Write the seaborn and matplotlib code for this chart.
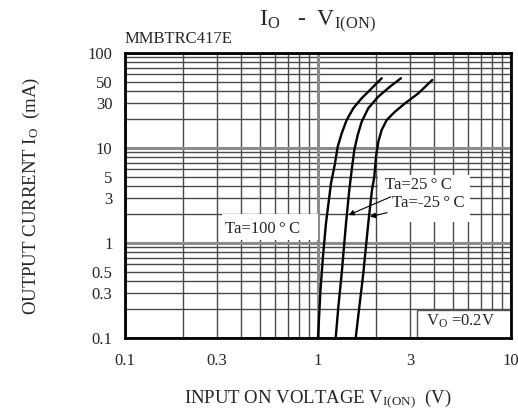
import matplotlib
matplotlib.use("Agg")
import matplotlib.pyplot as plt
from matplotlib.patches import Rectangle
from matplotlib.ticker import FixedLocator, FixedFormatter, LogLocator, NullFormatter
import pandas as pd
import seaborn as sns

# Input on-voltage (V) versus output current (mA) at three ambient temperatures
i_100c = [0.1, 0.32, 0.72, 1.62, 4.25, 6.9, 10.3, 14.3, 19.7, 26.2, 33.4, 42.5, 54.2]
v_100c = [1.00, 1.03, 1.061, 1.10, 1.168, 1.225, 1.265, 1.327, 1.408, 1.524, 1.684, 1.898, 2.138]

i_25c = [0.1, 0.21, 0.48, 1.62, 3.6, 5.87, 9.5, 13.7, 18.9, 26.2, 34.7, 44.2, 54.2]
v_25c = [1.235, 1.274, 1.327, 1.397, 1.452, 1.495, 1.542, 1.606, 1.684, 1.822, 2.053, 2.36, 2.69]

i_m25c = [0.1, 0.21, 0.48, 1.62, 3.6, 4.99, 8.1, 11.6, 15.5, 19.7, 24.1, 29.5, 37.6, 52.0]
v_m25c = [1.568, 1.636, 1.717, 1.822, 1.904, 1.957, 1.998, 2.053, 2.138, 2.27, 2.506, 2.824, 3.31, 3.91]

series_names = ["Ta=100\u2009°\u2009C", "Ta=25\u2009°\u2009C", "Ta=-25\u2009°\u2009C"]

x_ticks = [0.1, 0.3, 1, 3, 10]
x_tick_labels = ["0.1", "0.3", "1", "3", "10"]
y_ticks = [0.1, 0.3, 0.5, 1, 3, 5, 10, 30, 50, 100]
y_tick_labels = ["0.1", "0.3", "0.5", "1", "3", "5", "10", "30", "50", "100"]
decades_x = [0.1, 1, 10]
decades_y = [0.1, 1, 10, 100]

frames = []
for name, v, i in zip(series_names, [v_100c, v_25c, v_m25c], [i_100c, i_25c, i_m25c]):
    frames.append(pd.DataFrame({"V": v, "I": i, "series": name}))
df = pd.concat(frames, ignore_index=True)

sns.set_style("white")
plt.rcParams["font.family"] = ["Liberation Serif", "DejaVu Serif"]
plt.rcParams["mathtext.fontset"] = "custom"
plt.rcParams["mathtext.rm"] = "Liberation Serif"
plt.rcParams["mathtext.it"] = "Liberation Serif"

fig = plt.figure(figsize=(5.18, 4.17), dpi=100)
ax = fig.add_axes([0.2413, 0.1894, 0.7452, 0.6836])

sns.lineplot(data=df, x="V", y="I", hue="series", sort=False,
             palette=["black"] * 3, linewidth=1.7, legend=False, ax=ax,
             zorder=5)

ax.set_xscale("log")
ax.set_yscale("log")
ax.set_xlim(0.1, 10)
ax.set_ylim(0.1, 100)

ax.xaxis.set_major_locator(FixedLocator(x_ticks))
ax.xaxis.set_major_formatter(FixedFormatter(x_tick_labels))
ax.yaxis.set_major_locator(FixedLocator(y_ticks))
ax.yaxis.set_major_formatter(FixedFormatter(y_tick_labels))
for axis in (ax.xaxis, ax.yaxis):
    axis.set_minor_locator(LogLocator(base=10, subs=range(1, 10), numticks=20))
    axis.set_minor_formatter(NullFormatter())
    axis.remove_overlapping_locs = False

# Fine log grid in dark grey, decade lines as slightly wider grey bands
ax.grid(False, which="major")
ax.grid(True, which="minor", color="#4a4a4a", linewidth=1.0)
ax.set_axisbelow(True)
for d in decades_y:
    ax.axhline(d, color="#8c8c8c", linewidth=2.2, zorder=1.5)
for d in decades_x:
    ax.axvline(d, color="#8c8c8c", linewidth=2.2, zorder=1.5)

ax.tick_params(which="both", length=0, labelsize=12)
ax.tick_params(axis="x", pad=11)
ax.tick_params(axis="y", pad=9)

for s in ax.spines.values():
    s.set_color("black")
    s.set_linewidth(2.0)
    s.set_zorder(6)

ax.set_xlabel(r"INPUT ON VOLTAGE V$_{\mathrm{I(ON)}}$  (V)", fontsize=13.5,
              labelpad=13)
ax.set_ylabel(r"OUTPUT CURRENT I$_{\mathrm{O}}$  (mA)", fontsize=13.5,
              labelpad=33)

fig.text(0.612, 0.948, r"I$_{\mathrm{O}}$   -  V$_{\mathrm{I(ON)}}$",
         ha="center", va="center", fontsize=17)
ax.text(0.0, 1.022, "MMBTRC417E", transform=ax.transAxes, ha="left",
        va="bottom", fontsize=12)

# White label panels that hide the grid behind the annotations
ax.add_patch(Rectangle((0.251, 0.344), 0.249, 0.091, transform=ax.transAxes,
                       facecolor="white", edgecolor="none", zorder=2))
ax.add_patch(Rectangle((0.655, 0.407), 0.239, 0.165, transform=ax.transAxes,
                       facecolor="white", edgecolor="none", zorder=2))
ax.add_patch(Rectangle((0.756, 0.0), 0.244, 0.098, transform=ax.transAxes,
                       facecolor="white", edgecolor="#555555", linewidth=1.0,
                       zorder=2))

ax.text(0.356, 0.382, series_names[0], transform=ax.transAxes, ha="center",
        va="center", fontsize=12, zorder=6)
ax.text(0.869, 0.06, r"V$_{\mathrm{O}}$ =0.2V", transform=ax.transAxes,
        ha="center", va="center", fontsize=12, zorder=6)

arrow = dict(arrowstyle="-|>", color="black", linewidth=0.8,
             mutation_scale=8, shrinkA=1, shrinkB=0)
ax.annotate(series_names[1], xy=(1.44, 1.97), xytext=(2.22, 4.08),
            ha="left", va="center", fontsize=12, arrowprops=arrow, zorder=6)
ax.annotate(series_names[2], xy=(1.86, 1.89), xytext=(2.41, 2.64),
            ha="left", va="center", fontsize=12, arrowprops=arrow, zorder=6)

fig.savefig("out.png", dpi=100, facecolor="white")
